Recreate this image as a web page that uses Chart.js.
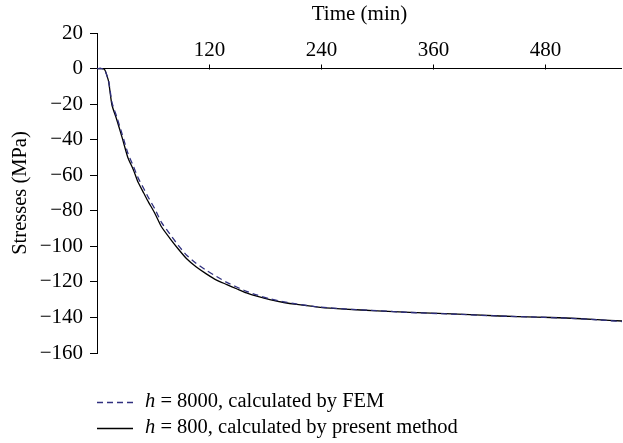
<!DOCTYPE html>
<html>
<head>
<meta charset="utf-8">
<script src="https://cdn.jsdelivr.net/npm/chart.js@4.4.1/dist/chart.umd.min.js"></script>
<style>
  body { margin: 0; background: #fff; }
  canvas { display: block; }
</style>
</head>
<body>
<canvas id="mycanvas" width="623" height="443"></canvas>
<script>
// time (min)
var time = [0, 5, 8, 10, 12.5, 16, 21, 27, 33, 39, 44, 50, 55, 62, 69, 78, 87, 96, 106, 117, 128, 139, 150, 160, 172, 185, 200, 214, 239, 265, 300, 335, 380, 431, 470, 502, 535, 562];
// h = 8000, FEM
var femStress = [0, 0, -0.5, -3, -7, -19, -27, -37, -47.5, -55, -61.5, -67.5, -72.5, -79, -86.5, -93, -99.5, -105, -109.5, -113.5, -117, -120.3, -123, -125.3, -127.5, -129.5, -131.2, -132.5, -134.2, -135.2, -136.2, -137.2, -138.1, -139.2, -139.8, -140.4, -141.3, -142.3];
// h = 800, present method
var presentStress = [0, 0, -0.5, -3, -7.5, -20.5, -28.5, -39, -50, -57, -64, -70, -75, -81.5, -89, -95.5, -101.5, -107, -111.5, -115.5, -119, -121.5, -124, -126.2, -128.2, -130, -131.6, -132.7, -134.3, -135.3, -136.3, -137.2, -138, -139.2, -139.8, -140.3, -141.2, -142];
var xTicks = [120, 240, 360, 480];
var legendText = ["h = 8000, calculated by FEM", "h = 800, calculated by present method"];

var serif = "'Liberation Serif', 'Times New Roman', serif";

function pts(ys) {
	var out = [];
	for (var i = 0; i < time.length; i++) {
		out.push({x: time[i], y: ys[i]});
	}
	return out;
}

// x axis sits on the zero line, ticks pointing up with labels above
var zeroAxis = {
	id: 'zeroAxis',
	afterDraw: function(chart) {
		var ctx = chart.ctx, xs = chart.scales.x, ys = chart.scales.y;
		var y0 = Math.round(ys.getPixelForValue(0)) + 0.5;
		ctx.save();
		ctx.strokeStyle = '#000';
		ctx.fillStyle = '#000';
		ctx.lineWidth = 1;
		ctx.font = '21px ' + serif;
		ctx.textAlign = 'center';
		ctx.textBaseline = 'alphabetic';
		xTicks.forEach(function(v) {
			var px = Math.round(xs.getPixelForValue(v)) + 0.5;
			ctx.beginPath();
			ctx.moveTo(px, y0);
			ctx.lineTo(px, y0 - 5);
			ctx.stroke();
			ctx.fillText(String(v), px, y0 - 14);
		});
		ctx.restore();
	}
};

// legend below the plot, italic h
var bottomLegend = {
	id: 'bottomLegend',
	afterDraw: function(chart) {
		var ctx = chart.ctx;
		var order = [0, 1];
		ctx.save();
		order.forEach(function(di, row) {
			var ds = chart.data.datasets[di];
			var y = 402 + row * 26;
			ctx.strokeStyle = ds.borderColor;
			ctx.lineWidth = ds.borderWidth;
			ctx.setLineDash(ds.borderDash || []);
			ctx.beginPath();
			ctx.moveTo(97, y + 0.5);
			ctx.lineTo(133, y + 0.5);
			ctx.stroke();
			ctx.setLineDash([]);
			ctx.fillStyle = '#000';
			ctx.textBaseline = 'middle';
			ctx.textAlign = 'left';
			var txt = legendText[row];
			ctx.font = 'italic 20.5px ' + serif;
			ctx.fillText(txt.charAt(0), 145, y);
			var w = ctx.measureText(txt.charAt(0)).width;
			ctx.font = '20.5px ' + serif;
			ctx.fillText(txt.slice(1), 145 + w, y);
		});
		ctx.restore();
	}
};

var ctx = document.getElementById('mycanvas');

var LineGraph = new Chart(ctx, {
	type: 'line',
	data: {
		datasets: [
			{
				label: legendText[0],
				data: pts(femStress),
				borderColor: '#30307f',
				borderWidth: 1.3,
				borderDash: [6, 4],
				pointRadius: 0,
				fill: false,
				tension: 0.2
			},
			{
				label: legendText[1],
				data: pts(presentStress),
				borderColor: '#000000',
				borderWidth: 1.3,
				pointRadius: 0,
				fill: false,
				tension: 0.2
			}
		]
	},
	options: {
		responsive: false,
		animation: false,
		devicePixelRatio: 1,
		layout: { padding: { left: 0, right: 1, top: 0, bottom: 90 } },
		plugins: {
			legend: { display: false },
			tooltip: { enabled: false }
		},
		scales: {
			x: {
				type: 'linear',
				position: 'top',
				min: 0,
				max: 562,
				grid: { display: false },
				border: { display: false },
				ticks: { display: false, stepSize: 120 },
				title: {
					display: true,
					text: 'Time (min)',
					color: '#000',
					font: { family: serif, size: 21, lineHeight: 1.2 },
					padding: { top: 2, bottom: 0 }
				},
				afterFit: function(s) { s.height = 33; }
			},
			y: {
				min: -160,
				max: 20,
				border: { display: true, color: '#000', width: 1 },
				grid: {
					color: function(c) { return c.tick && c.tick.value === 0 ? '#000' : 'rgba(0,0,0,0)'; },
					tickColor: '#000',
					tickLength: 7,
					lineWidth: 1
				},
				ticks: {
					stepSize: 20,
					color: '#000',
					padding: 7,
					font: { family: serif, size: 21 },
					callback: function(v) { return String(v).replace('-', '\u2212'); }
				},
				title: {
					display: true,
					text: 'Stresses (MPa)',
					color: '#000',
					font: { family: serif, size: 20.5, lineHeight: 1.2 },
					padding: { top: 8, bottom: 0 }
				},
				afterFit: function(s) { s.width = 97; }
			}
		}
	},
	plugins: [zeroAxis, bottomLegend]
});
</script>
</body>
</html>
